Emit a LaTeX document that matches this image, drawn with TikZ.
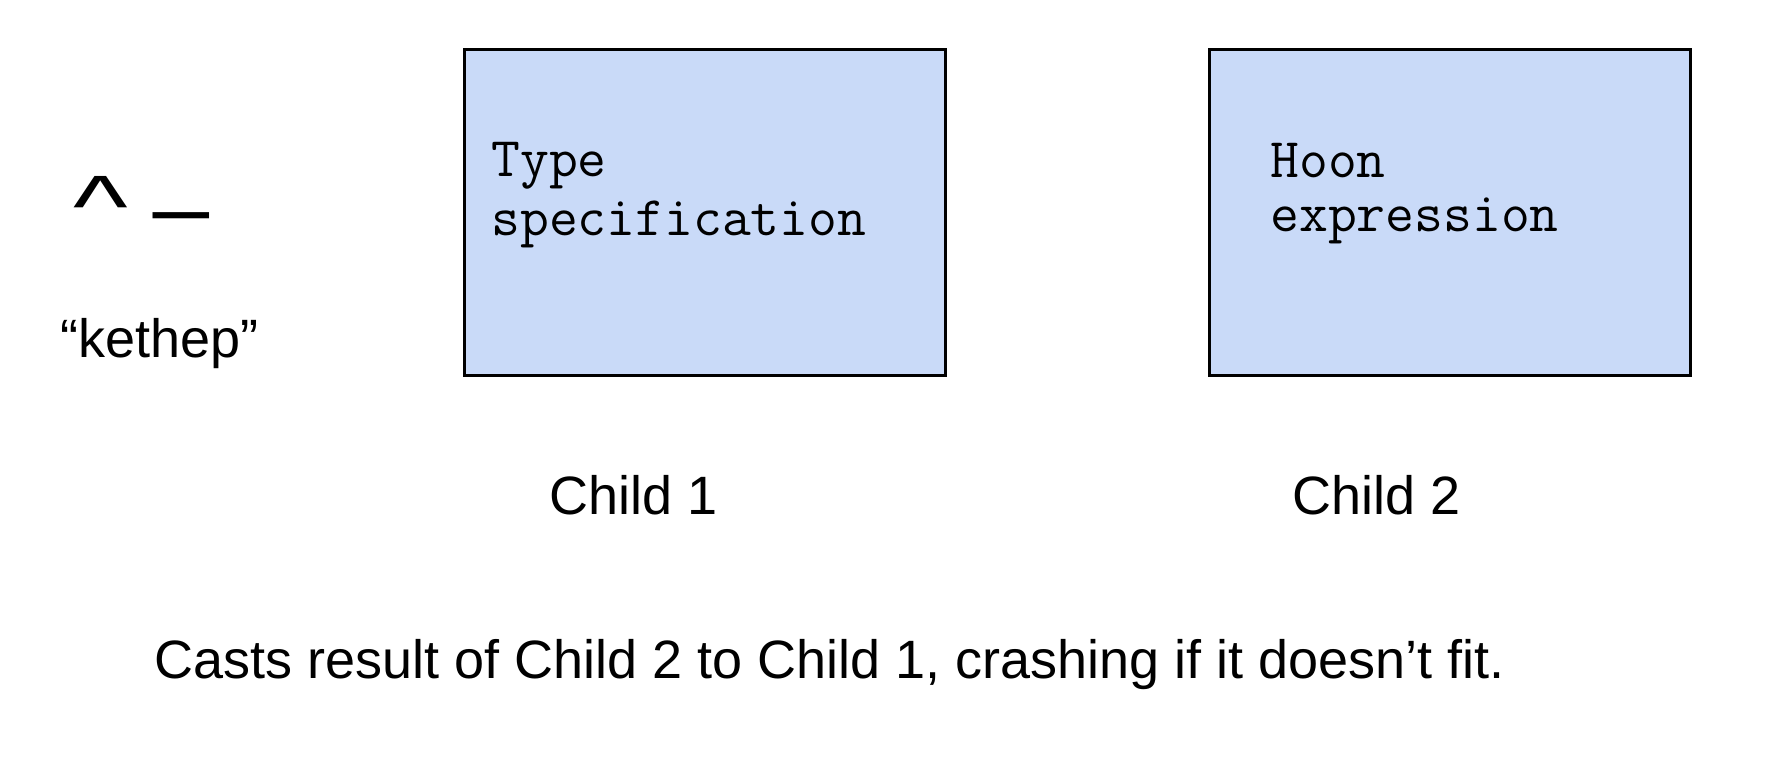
\documentclass[tikz,border=0pt]{standalone}
\usepackage{fontspec}
\setmainfont{Liberation Sans}
\definecolor{boxfill}{HTML}{C9DAF8}
\tikzset{
  blockbox/.style={draw=black, line width=1.5pt, fill=boxfill, minimum width=240.5pt, minimum height=163pt, inner sep=0pt},
  lbl/.style={anchor=base west, inner sep=0pt, font=\fontsize{27pt}{32pt}\selectfont},
  codelbl/.style={anchor=base west, inner sep=0pt, font=\ttfamily\fontsize{28pt}{32pt}\selectfont},
  runelbl/.style={anchor=base west, inner sep=0pt, font=\fontsize{48.5pt}{56pt}\selectfont}
}
\begin{document}
\begin{tikzpicture}[x=0.5pt, y=-0.5pt]
\useasboundingbox[fill=white] (0,0) rectangle (1782,774);
% boxes
\node[blockbox] (child1box) at (705,212.5) {};
\node[blockbox] (child2box) at (1450,212.5) {};
% box texts
\node[codelbl] (type) at (491,177) {Type};
\node[codelbl] (spec) at (491,236) {specification};
\node[codelbl] (hoon) at (1270,178) {Hoon};
\node[codelbl] (expr) at (1270,232) {expression};
% rune
\node[runelbl] (rune) at (73,200) {\raisebox{-18.4pt}{\scalebox{1.2}[0.9]{\textasciicircum}} \_};
\node[lbl] (kethep) at (60,358) {“kethep”};
% child labels
\node[lbl] (c1) at (549,515) {Child 1};
\node[lbl] (c2) at (1292,515) {Child 2};
% description
\node[lbl] (desc) at (154,678) {Casts result of Child 2 to Child 1, crashing if it doesn’t fit.};
\end{tikzpicture}
\end{document}
